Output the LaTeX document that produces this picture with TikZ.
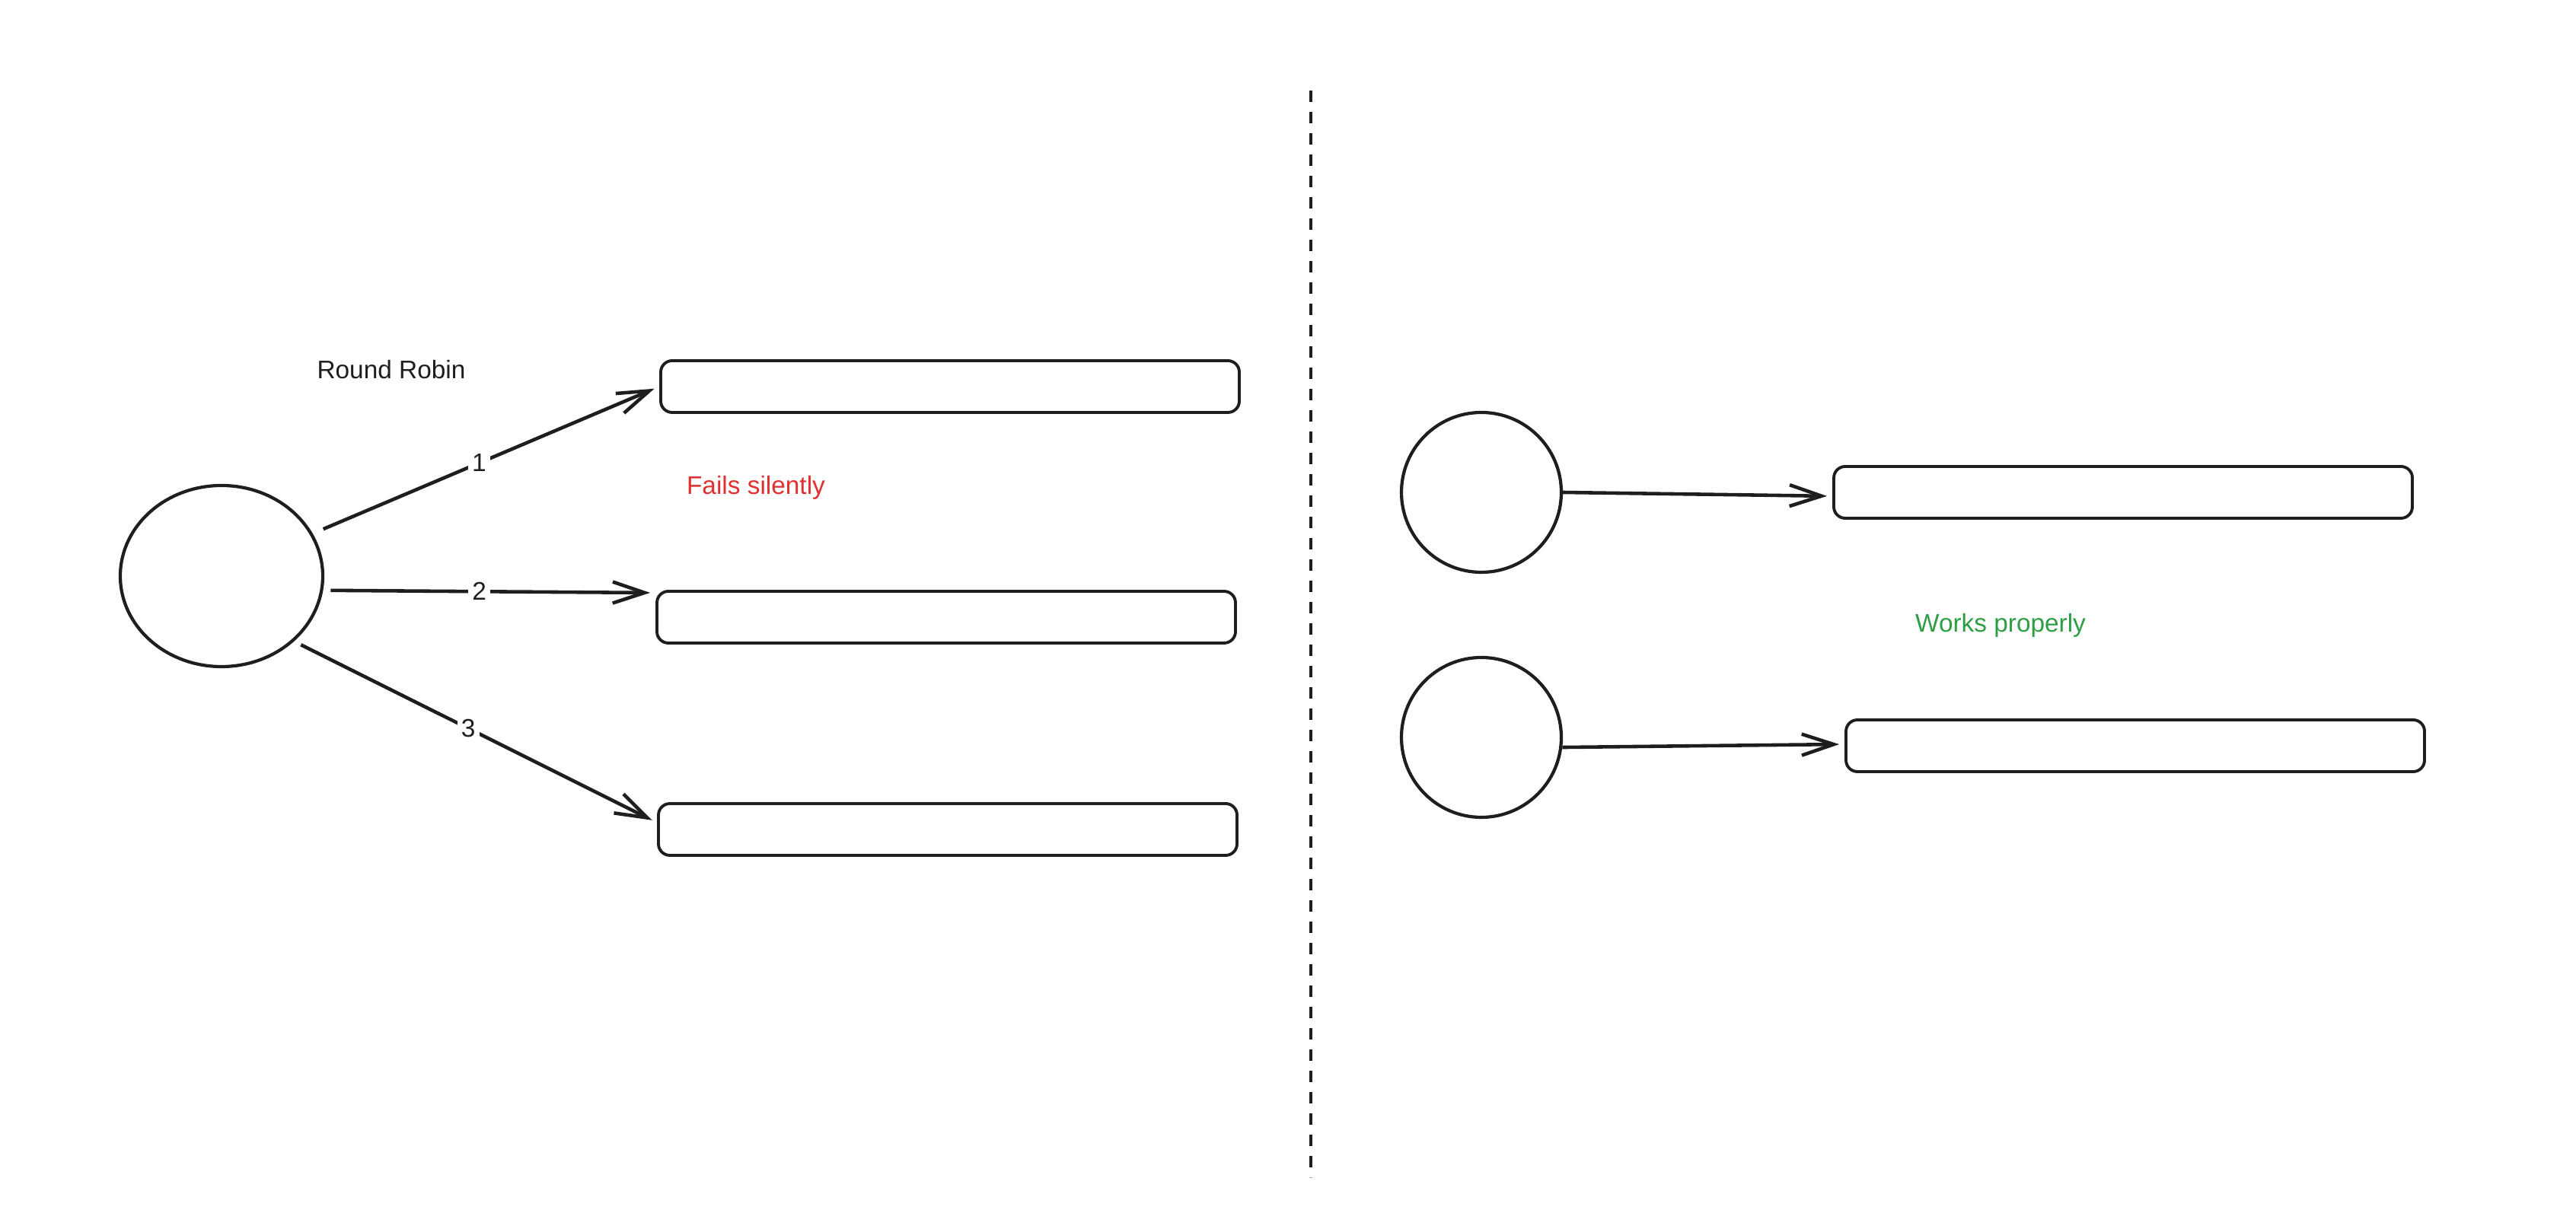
\documentclass[tikz,border=0pt]{standalone}
\usepackage{fontspec}
\setmainfont{Liberation Sans}
\usepackage{xcolor}
\usetikzlibrary{arrows.meta,calc,shapes.geometric}
\definecolor{inkblack}{HTML}{1E1E1E}
\definecolor{failred}{HTML}{E03131}
\definecolor{okgreen}{HTML}{2F9E44}
\tikzset{
  server/.style={draw=inkblack,line width=1.1pt,rounded corners=0.15cm,inner sep=0pt,minimum width=7.6cm,minimum height=0.68cm},
  client/.style={draw=inkblack,line width=1.2pt,circle,inner sep=0pt,minimum size=2.1cm},
  req/.style={draw=inkblack,line width=1.3pt,-{Straight Barb[length=4.2mm,width=2.8mm]},shorten >=2pt},
  lbl/.style={font=\fontsize{9.5}{11}\selectfont,text=inkblack}
}

\begin{document}
\begin{tikzpicture}
  \useasboundingbox (0,0) rectangle (33.84,16.14);
  % left side
  \node[draw=inkblack,line width=1.2pt,ellipse,inner sep=0pt,minimum width=2.66cm,minimum height=2.38cm] (rr) at (2.91,8.57) {};
  \foreach \n/\x/\y in {s1/12.48/11.06,s2/12.43/8.03,s3/12.45/5.24}
    \node[server] (\n) at (\x,\y) {};
  \draw[req,shorten <=0.15cm] (rr.25) -- (s1.west) node[pos=0.48,fill=white,inner sep=1.5pt,lbl] (n1) {1};
  \draw[req,shorten <=0.1cm] (rr.-8) -- ([yshift=0.32cm]s2.west) node[pos=0.47,fill=white,inner sep=1.5pt,lbl] (n2) {2};
  \draw[req,shorten <=0.1cm] (rr.-42) -- ([yshift=0.09cm]s3.west) node[pos=0.48,fill=white,inner sep=1.5pt,lbl] (n3) {3};
  \node[lbl] (title) at (5.14,11.28) {Round Robin};
  \node[lbl,text=failred] (fail) at (9.93,9.73) {Fails silently};
  % divider
  \coordinate (top) at (17.22,14.95);
  \coordinate (bot) at (17.22,0.67);
  \draw[inkblack,line width=1.1pt,dash pattern=on 0.15cm off 0.13cm] (top) -- (bot);
  % right side
  \node[client] (c1) at (19.46,9.67) {};
  \node[client] (c2) at (19.46,6.45) {};
  \node[server] (s4) at (27.89,9.67) {};
  \node[server] (s5) at (28.05,6.34) {};
  \draw[req] (c1.east) -- ([yshift=-0.05cm]s4.west);
  \draw[req] (c2.-7) -- ([yshift=0.02cm]s5.west);
  \node[lbl,text=okgreen] (ok) at (26.28,7.92) {Works properly};
\end{tikzpicture}
\end{document}
